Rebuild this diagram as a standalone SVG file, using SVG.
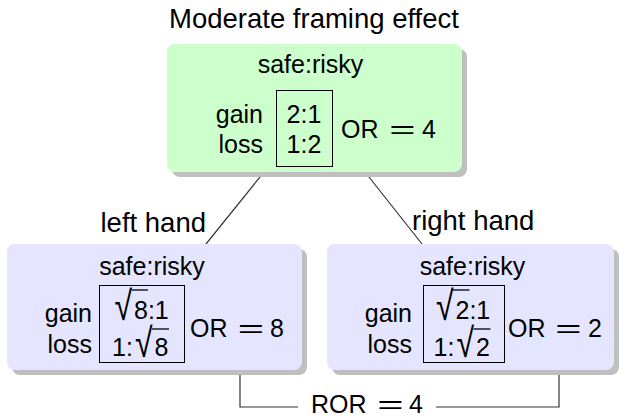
<svg xmlns="http://www.w3.org/2000/svg" width="625" height="420" viewBox="0 0 625 420">
<style>
text{font-family:"Liberation Sans",Arial,sans-serif;fill:#000;font-size:25px}
.lbl{font-size:27.5px}
.rad{font-size:32px}
.shadow{fill:#bfbfbf}
.green{fill:#ccffcc}
.blue{fill:#e5e5ff}
.inner{fill:none;stroke:#000;stroke-width:1}
.conn{fill:none;stroke:#333;stroke-width:1.2}
.vinc{stroke:#000;stroke-width:1.3}
.m{text-anchor:middle}
.e{text-anchor:end}
</style>
<rect width="625" height="420" fill="#fff"/>
<text class="lbl m" x="314" y="28">Moderate framing effect</text>
<g id="connectors">
<line class="conn" x1="264" y1="172" x2="206" y2="244"/>
<line class="conn" x1="365" y1="172" x2="422" y2="244"/>
<text class="lbl e" x="206" y="232">left hand</text>
<text class="lbl" x="412" y="230">right hand</text>
<polyline class="conn" points="240,348 240,407 298,407"/>
<polyline class="conn" points="436,407 559,407 559,348"/>
<text x="311" y="413">ROR</text>
<text class="m" transform="translate(390.5,413) scale(1.8,1)">=</text>
<text x="409" y="413">4</text>
</g>
<g id="top">
<rect class="shadow" x="172" y="49" width="295" height="128" rx="8"/>
<rect class="green" x="167" y="44" width="295" height="128" rx="8"/>
<text class="m" x="310.5" y="73">safe:risky</text>
<text class="e" x="263" y="123">gain</text>
<text class="e" x="263" y="153">loss</text>
<rect class="inner" x="276.5" y="90.5" width="56" height="76"/>
<text class="m" x="304" y="123">2:1</text>
<text class="m" x="304" y="153">1:2</text>
<text x="341" y="138">OR</text>
<text class="m" transform="translate(402.5,138) scale(1.8,1)">=</text>
<text x="422" y="138">4</text>
</g>
<g id="left">
<rect class="shadow" x="12" y="249" width="295" height="126" rx="8"/>
<rect class="blue" x="7" y="244" width="295" height="126" rx="8"/>
<text class="m" x="152" y="275">safe:risky</text>
<text class="e" x="92" y="322">gain</text>
<text class="e" x="92" y="353">loss</text>
<rect class="inner" x="99.5" y="285.5" width="85" height="77"/>
<text class="rad" transform="translate(114.5,320) scale(1,1.28)">√</text>
<line class="vinc" x1="131.5" y1="290" x2="148" y2="290"/>
<text x="134" y="319">8:1</text>
<text x="112" y="356">1:</text>
<text class="rad" transform="translate(135,357) scale(1,1.28)">√</text>
<line class="vinc" x1="152" y1="329" x2="169" y2="329"/>
<text x="154.5" y="356">8</text>
<text x="190" y="337">OR</text>
<text class="m" transform="translate(251,337) scale(1.8,1)">=</text>
<text x="270" y="337">8</text>
</g>
<g id="right">
<rect class="shadow" x="332" y="249" width="287" height="126" rx="8"/>
<rect class="blue" x="327" y="244" width="287" height="126" rx="8"/>
<text class="m" x="472.5" y="275">safe:risky</text>
<text class="e" x="412" y="322">gain</text>
<text class="e" x="412" y="353">loss</text>
<rect class="inner" x="423.5" y="285.5" width="81" height="77"/>
<text class="rad" transform="translate(436,320) scale(1,1.28)">√</text>
<line class="vinc" x1="453" y1="290" x2="469.5" y2="290"/>
<text x="455.5" y="319">2:1</text>
<text x="433.5" y="356">1:</text>
<text class="rad" transform="translate(456.5,357) scale(1,1.28)">√</text>
<line class="vinc" x1="473.5" y1="329" x2="490.5" y2="329"/>
<text x="476" y="356">2</text>
<text x="508" y="337">OR</text>
<text class="m" transform="translate(568.5,337) scale(1.8,1)">=</text>
<text x="588" y="337">2</text>
</g>
</svg>
